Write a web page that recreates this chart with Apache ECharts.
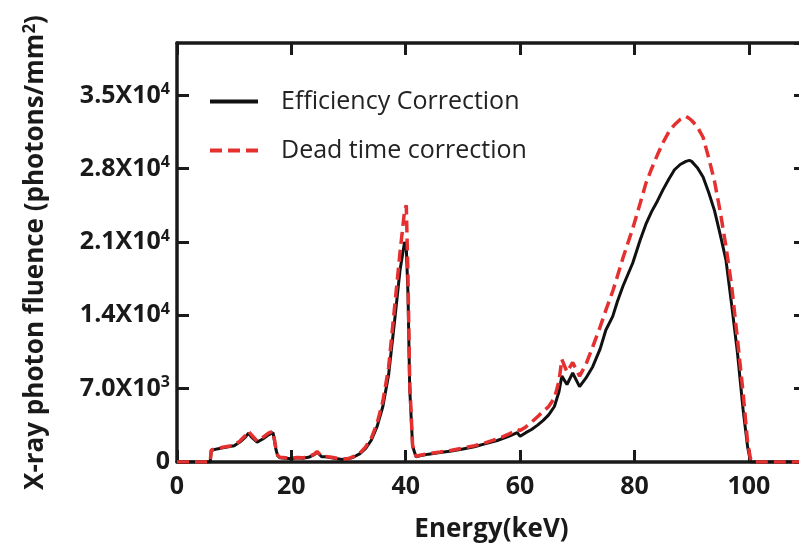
<!DOCTYPE html>
<html>
<head>
<meta charset="utf-8">
<script src="https://cdn.jsdelivr.net/npm/echarts@6/dist/echarts.min.js"></script>
<style>
html, body { margin: 0; padding: 0; background: #fff; }
#main { width: 799px; height: 547px; }
</style>
</head>
<body>
<div id="main"></div>
<script>
// energy grid (keV) and fluence
var energy = [0, 5, 5.8, 6, 7, 8, 9, 10, 11, 12, 12.5, 13, 14, 15, 16, 16.8, 17.3, 17.6, 18, 19, 20, 21, 22, 23, 24, 24.5, 25.3, 26, 27, 28, 29, 30, 31, 32, 33, 34, 35, 36, 37, 38, 39, 39.8, 40.1, 40.4, 40.7, 41.2, 41.8, 42.5, 44, 46, 48, 50, 52, 54, 56, 58, 59.5, 60, 61, 62, 63, 64, 65, 66, 66.8, 67.3, 68.2, 69.2, 70.4, 71.5, 72.7, 74, 75, 76.2, 77, 78, 79.7, 81, 82, 83, 84, 85, 86, 87, 88, 89, 89.6, 90, 91, 92, 93, 94, 95, 96, 97, 98, 99, 99.8, 100.3, 100.6, 110];
var efficiency = [0, 0, 0, 1100, 1250, 1350, 1450, 1550, 1900, 2400, 2750, 2400, 1900, 2200, 2600, 2800, 1200, 600, 400, 350, 300, 400, 350, 450, 700, 950, 500, 500, 400, 300, 250, 300, 500, 800, 1300, 2100, 3400, 5300, 8300, 13200, 18300, 21000, 20500, 16000, 7000, 1500, 500, 600, 750, 900, 1050, 1250, 1450, 1750, 2050, 2450, 2800, 2450, 2800, 3100, 3500, 3950, 4500, 5300, 6700, 8200, 7400, 8500, 7200, 8000, 9100, 10800, 12600, 13900, 15300, 16800, 19000, 21200, 22700, 23900, 24900, 26000, 27000, 27900, 28400, 28700, 28800, 28700, 28100, 27200, 25700, 24000, 21700, 19300, 15000, 10500, 5000, 1400, 0, 0, 0];
var deadTime = [0, 0, 0, 1150, 1300, 1400, 1500, 1600, 2000, 2550, 2950, 2600, 2000, 2350, 2750, 2950, 1300, 650, 450, 400, 350, 420, 400, 500, 750, 1000, 550, 520, 450, 350, 280, 330, 550, 850, 1450, 2300, 3700, 5800, 9000, 14500, 20000, 24000, 24500, 17500, 7500, 1600, 550, 650, 800, 950, 1120, 1330, 1550, 1850, 2200, 2650, 3100, 3000, 3350, 3800, 4300, 4800, 5300, 6100, 7700, 9800, 8600, 9500, 8200, 9300, 11000, 12900, 14500, 16300, 17700, 19500, 22300, 24700, 26600, 28000, 29300, 30500, 31500, 32200, 32700, 33000, 32800, 32600, 32000, 31000, 29000, 26800, 23900, 20600, 16800, 11800, 6600, 1800, 300, 0, 0];

var yTickValues = [0, 7000, 14000, 21000, 28000, 35000];
var yTickMantissa = ['0', '7.0X10', '1.4X10', '2.1X10', '2.8X10', '3.5X10'];
var yTickExponent = ['', '3', '4', '4', '4', '4'];

var seriesNames = ['Efficiency Correction', 'Dead time correction'];

function pairs(xs, ys) {
    var out = [];
    for (var i = 0; i < xs.length; i++) out.push([xs[i], ys[i]]);
    return out;
}

var myChart = echarts.init(document.getElementById('main'));
var axisColor = '#1a1a1a';
var lblFont = 'Open Sans';

// frame axes (top / right) only draw line + inward ticks
function frameAxis(extra) {
    var a = {
        type: 'value',
        splitLine: { show: false },
        axisLine: { onZero: false, lineStyle: { color: axisColor, width: 3.5 } },
        axisTick: { inside: true, length: 12, lineStyle: { color: axisColor, width: 3 } },
        axisLabel: { show: false }
    };
    for (var k in extra) a[k] = extra[k];
    return a;
}

var option = {
    animation: false,
    backgroundColor: '#fff',
    // plot runs past the right edge of the picture (x max = 110 sits off-canvas)
    grid: { left: 177, top: 43, width: 629, height: 419, outerBoundsMode: 'none' },
    legend: {
        orient: 'vertical',
        left: 203,
        top: 84,
        itemWidth: 48,
        itemHeight: 22,
        itemGap: 24,
        data: seriesNames,
        itemStyle: { opacity: 0 },
        lineStyle: { width: 4 },
        textStyle: { fontFamily: lblFont, fontSize: 25, color: '#222', padding: [0, 0, 0, 18] }
    },
    xAxis: [{
        type: 'value',
        min: 0, max: 110, interval: 20,
        name: 'Energy(keV)',
        nameLocation: 'middle',
        nameGap: 55,
        nameTextStyle: { fontFamily: lblFont, fontSize: 26, fontWeight: 'bold', color: axisColor },
        splitLine: { show: false },
        axisLine: { lineStyle: { color: axisColor, width: 3.5 } },
        axisTick: { inside: true, length: 12, lineStyle: { color: axisColor, width: 3 } },
        axisLabel: { showMaxLabel: false, margin: 12, fontFamily: lblFont, fontSize: 25, fontWeight: 'bold', color: axisColor }
    }, frameAxis({ position: 'top', min: 0, max: 110, interval: 20 })],
    yAxis: [{
        type: 'value',
        min: 0, max: 40000, interval: 7000,
        name: 'X-ray photon fluence (photons/mm{s|2})',
        nameLocation: 'middle',
        nameGap: 128,
        nameTextStyle: {
            fontFamily: lblFont, fontSize: 26, fontWeight: 'bold', color: axisColor,
            rich: { s: { fontFamily: lblFont, fontSize: 17, fontWeight: 'bold', color: axisColor, verticalAlign: 'top', padding: [0, 0, 10, 0] } }
        },
        splitLine: { show: false },
        axisLine: { lineStyle: { color: axisColor, width: 3.5 } },
        axisTick: { inside: true, length: 12, lineStyle: { color: axisColor, width: 3 } },
        axisLabel: {
            showMaxLabel: false,
            margin: 7,
            formatter: function (v) {
                var i = yTickValues.indexOf(v);
                if (i < 0) return '';
                return '{m|' + yTickMantissa[i] + '}' + (yTickExponent[i] ? '{s|' + yTickExponent[i] + '}' : '');
            },
            rich: {
                m: { fontFamily: lblFont, fontSize: 25, fontWeight: 'bold', color: axisColor },
                s: { fontFamily: lblFont, fontSize: 16, fontWeight: 'bold', color: axisColor, verticalAlign: 'top', padding: [0, 0, 12, 0] }
            }
        }
    }, frameAxis({ position: 'right', min: 0, max: 40000, interval: 7000 })],
    series: [{
        name: seriesNames[0],
        type: 'line',
        showSymbol: false,
        symbol: 'none',
        color: '#111',
        lineStyle: { color: '#111', width: 3 },
        data: pairs(energy, efficiency)
    }, {
        name: seriesNames[1],
        type: 'line',
        showSymbol: false,
        symbol: 'none',
        color: '#e53030',
        lineStyle: { color: '#e53030', width: 3.5, type: [12, 6] },
        data: pairs(energy, deadTime)
    }]
};
myChart.setOption(option);
</script>
</body>
</html>
